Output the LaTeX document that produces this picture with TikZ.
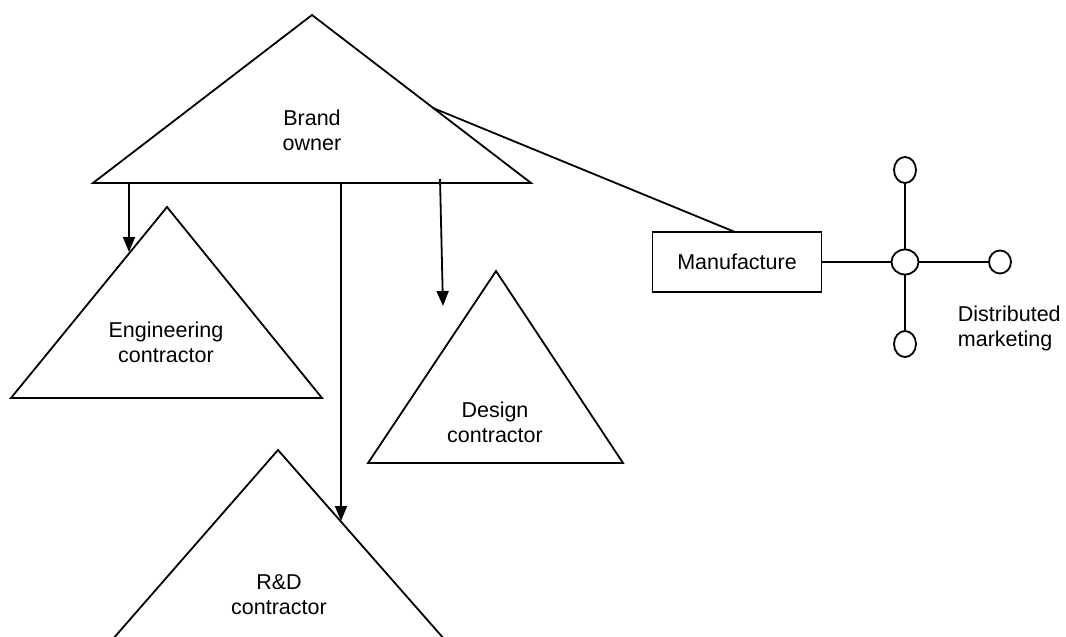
\documentclass[tikz,border=0pt]{standalone}
\usepackage{fontspec}
\setmainfont{Liberation Sans}
\usetikzlibrary{arrows.meta,shapes.geometric}
\begin{document}
\begin{tikzpicture}[x=1pt,y=-1pt,
  line width=1.8pt,
  lbl/.style={font=\fontsize{21.5}{25}\selectfont, align=center, inner sep=0pt},
  tri/.style={line join=miter},
  arr/.style={-{Triangle[length=15pt,width=12pt]}},
  knot/.style={draw, ellipse, fill=white, inner sep=0pt, minimum width=22pt, minimum height=26pt},
  box/.style={draw, rectangle, minimum width=169pt, minimum height=60pt, inner sep=0pt, font=\fontsize{21.5}{25}\selectfont}]
\useasboundingbox (0,0) rectangle (1066,637);

% triangles
\draw[tri] (312,15) -- (531,183) -- (93,183) -- cycle;
\draw[tri] (167,207) -- (322,398) -- (11,398) -- cycle;
\draw[tri] (496,271) -- (623,463) -- (368,463) -- cycle;
\draw[tri] (112,640) -- (278,450) -- (445,640);

% labels
\node[lbl] (brand) at (312,130) {Brand\\owner};
\node[lbl] (eng) at (166,342) {Engineering\\contractor};
\node[lbl] (des) at (495,422) {Design\\contractor};
\node[lbl] (rnd) at (279,595) {R\&D\\contractor};

% arrows from the brand owner
\coordinate (a1s) at (129,183);
\coordinate (a1e) at (129,252);
\coordinate (a2s) at (341,183);
\coordinate (a2e) at (341,521);
\coordinate (a3s) at (440,179);
\coordinate (a3e) at (443,306);
\draw[arr] (a1s) -- (a1e);
\draw[arr] (a2s) -- (a2e);
\draw[arr] (a3s) -- (a3e);

% manufacture
\node[box] (mf) at (737,262) {Manufacture};
\coordinate (bo) at (433,108);
\coordinate (mft) at (735,232);
\draw (bo) -- (mft);

% distribution cross
\node[knot, minimum width=27pt, minimum height=25pt] (hub) at (905,262) {};
\node[knot] (top) at (905,170) {};
\node[knot, minimum height=23pt] (right) at (1000,262) {};
\node[knot] (bot) at (905,344) {};
\draw (mf.east) -- (hub.west);
\draw (hub.east) -- (right.west);
\draw (hub.north) -- (top.south);
\draw (hub.south) -- (bot.north);

\node[lbl, align=left, anchor=north west] (dm) at (957,305) {Distributed\\marketing};
\end{tikzpicture}
\end{document}
